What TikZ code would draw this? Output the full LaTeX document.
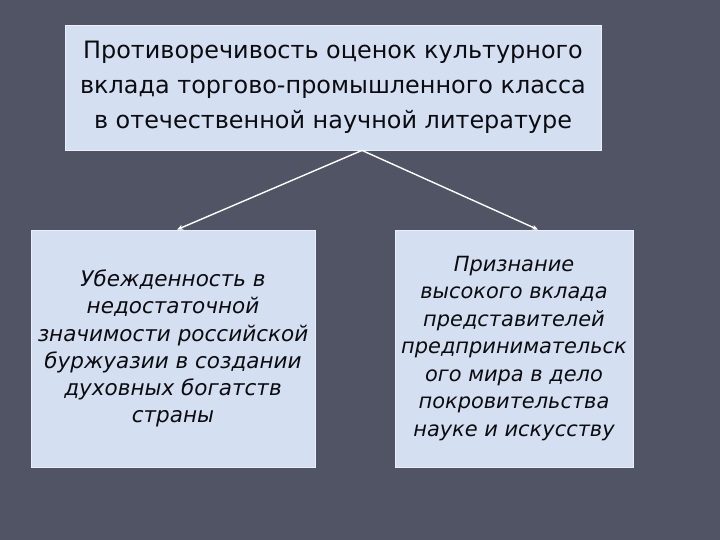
\documentclass[tikz,border=0pt]{standalone}
\usepackage{fontspec}
\setmainfont{DejaVu Sans}
\usetikzlibrary{arrows.meta}
\definecolor{bg}{RGB}{80,84,101}
\definecolor{boxfill}{RGB}{212,224,241}
\definecolor{boxline}{RGB}{235,240,248}
\definecolor{ink}{RGB}{12,12,16}
\tikzset{
  box/.style={draw=boxline, line width=0.8bp, fill=boxfill, text=ink, align=center, inner sep=0pt},
  conn/.style={draw=white, line width=1.4bp, -{Stealth[length=6bp,width=5bp]}}
}
\begin{document}
\begin{tikzpicture}[x=1bp,y=-1bp]
\fill[bg] (0,0) rectangle (720,540);
\useasboundingbox (0,0) rectangle (720,540);
\node[box, minimum width=536bp, minimum height=125bp, font=\fontsize{24}{35}\selectfont] (top) at (333,87.5)
  {Противоречивость оценок культурного\\вклада торгово-промышленного класса\\в отечественной научной литературе};
\node[box, minimum width=284bp, minimum height=237bp, font=\fontsize{21.6}{27.2}\selectfont\itshape] (left) at (173,348.5)
  {Убежденность в\\недостаточной\\значимости российской\\буржуазии в создании\\духовных богатств\\страны};
\node[box, minimum width=238bp, minimum height=237bp, font=\fontsize{21}{27.6}\selectfont\itshape] (right) at (514,348.5)
  {Признание\\высокого вклада\\представителей\\предпринимательск\\ого мира в дело\\покровительства\\науке и искусству};
\coordinate (src) at ([xshift=29bp]top.south);
\draw[conn] (src) -- ([xshift=4bp]left.north);
\draw[conn] (src) -- ([xshift=24bp]right.north);
\end{tikzpicture}
\end{document}
